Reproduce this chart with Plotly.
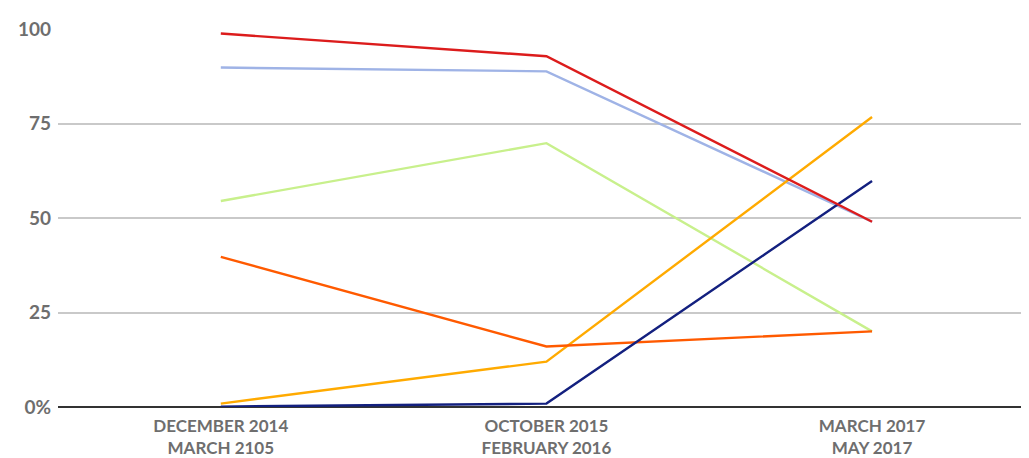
import plotly.graph_objects as go

categories = ["DECEMBER 2014<br>MARCH 2105", "OCTOBER 2015<br>FEBRUARY 2016", "MARCH 2017<br>MAY 2017"]
x_pos = [0, 1, 2]

series_red = [98.8, 92.8, 49.0]
series_lightblue = [89.8, 88.8, 49.0]
series_lightgreen = [54.5, 69.8, 20.0]
series_orangered = [39.7, 16.0, 20.0]
series_orange = [0.9, 12.0, 76.7]
series_navy = [0.1, 0.9, 59.8]

y_ticks = [0, 25, 50, 75, 100]
y_ticklabels = ["0%", "25", "50", "75", "100"]

series = [
    (series_lightgreen, "#c8f08c"),
    (series_lightblue, "#9fb3e6"),
    (series_orange, "#ffaa00"),
    (series_orangered, "#ff5a00"),
    (series_navy, "#13207f"),
    (series_red, "#dc1c1c"),
]

fig = go.Figure()
for vals, col in series:
    fig.add_trace(go.Scatter(x=x_pos, y=vals, mode="lines",
                             line=dict(color=col, width=2.4), showlegend=False,
                             hoverinfo="skip"))

fig.update_layout(
    width=1029, height=458,
    margin=dict(l=50, r=8, t=21, b=59, autoexpand=False),
    plot_bgcolor="white", paper_bgcolor="white",
    font=dict(family="Lato", color="#6e6e6e"),
)
fig.update_xaxes(
    range=[-0.5, 2.482], tickmode="array", tickvals=x_pos, ticktext=categories,
    showgrid=False, zeroline=False, showline=False, automargin=False,
    tickfont=dict(family="Lato", size=17, color="#6e6e6e", weight="bold"),
    ticks="", ticklabelstandoff=7,
)
fig.update_yaxes(
    range=[0, 100], tickmode="array", tickvals=y_ticks, ticktext=y_ticklabels,
    showgrid=True, gridcolor="#c9c9c9", gridwidth=1.5,
    zeroline=True, zerolinecolor="#333333", zerolinewidth=2,
    showline=False, ticks="", automargin=False,
    tickfont=dict(family="Lato", size=19, color="#6e6e6e", weight="bold"),
    ticklabelstandoff=6,
)
fig.write_html("out.html")
